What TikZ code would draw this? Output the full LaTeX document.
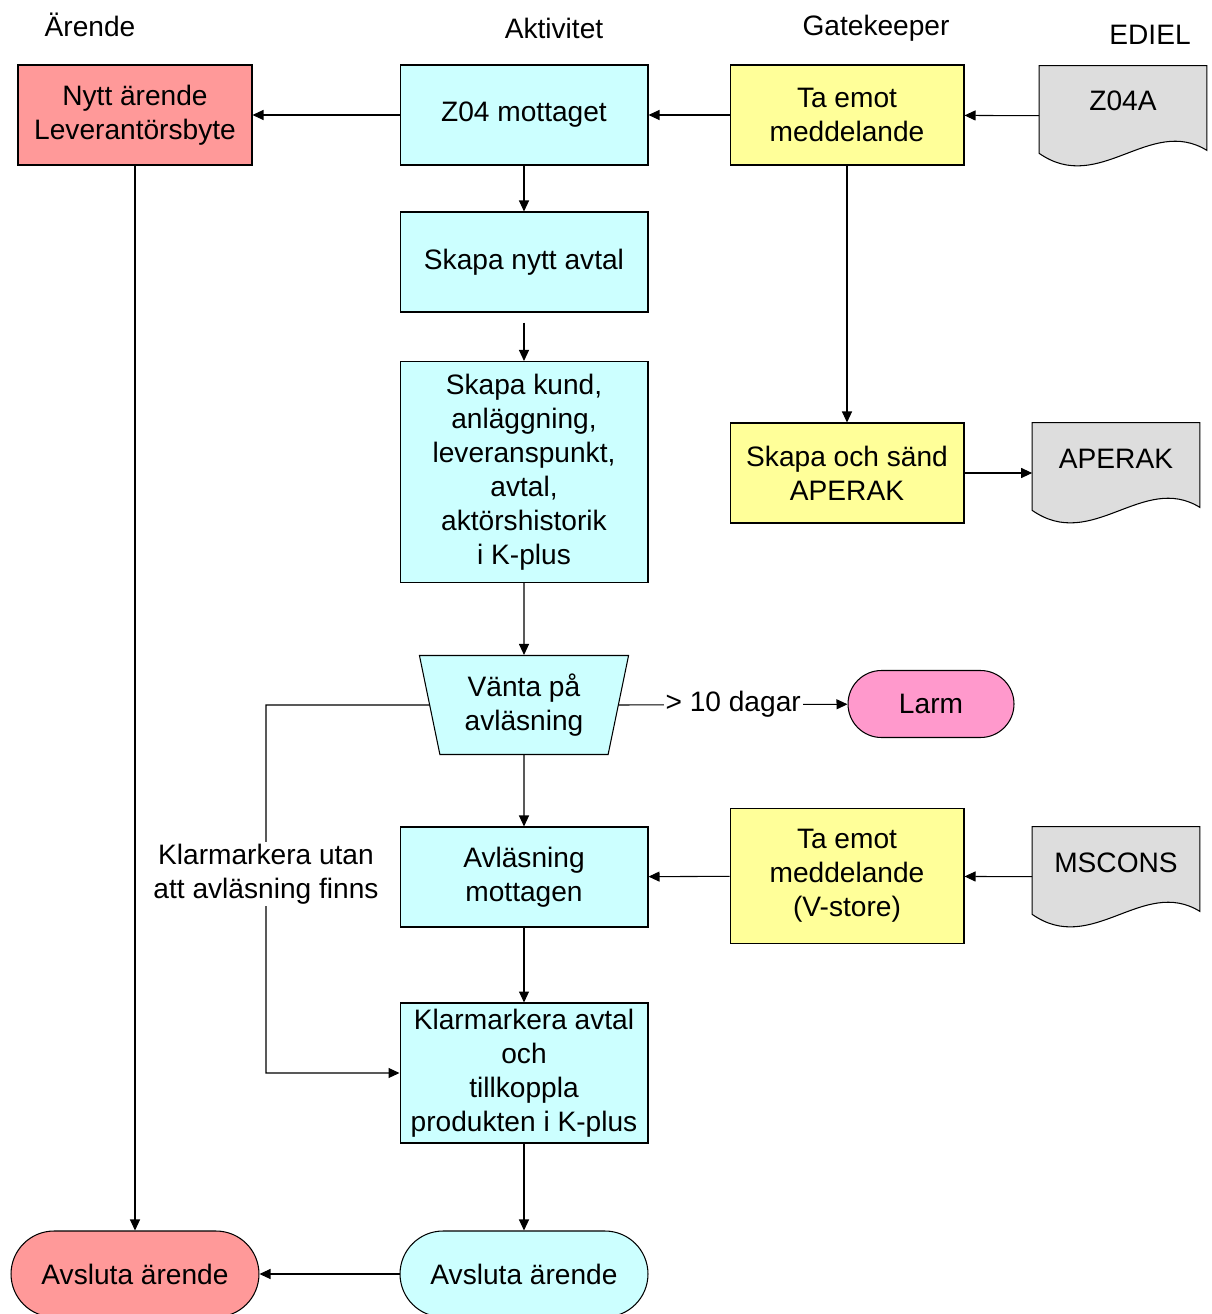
\documentclass[tikz,border=0pt]{standalone}
\usepackage{fontspec}
\setmainfont{Liberation Sans}
\usepackage{tikz}
\usetikzlibrary{arrows.meta,shapes.geometric,backgrounds}

\definecolor{arendered}{HTML}{FF9999}
\definecolor{aktcyan}{HTML}{CCFFFF}
\definecolor{gateyellow}{HTML}{FFFF99}
\definecolor{edielgray}{HTML}{DDDDDD}
\definecolor{larmpink}{HTML}{FF99CC}

% wavy document outline behind a doc node
\newcommand{\docwave}[1]{%
  \begin{pgfonlayer}{background}
  \filldraw[fill=edielgray, line width=0.6pt] (#1.north west) -- (#1.north east)
    -- ([yshift=0.32cm]#1.south east)
    .. controls ([xshift=-1.14cm,yshift=1.02cm]#1.south east)
    and ([xshift=1.2cm,yshift=-0.58cm]#1.south west) ..
    ([yshift=0.26cm]#1.south west) -- cycle;
  \end{pgfonlayer}}

\begin{document}
\begin{tikzpicture}[
    x=0.02cm, y=-0.02cm,
    font=\fontsize{16}{19.4}\selectfont,
    box/.style={draw, line width=0.6pt, minimum width=4.96cm,
        minimum height=2cm, align=center, inner sep=2pt},
    doc/.style={minimum width=3.34cm, minimum height=2cm,
        text height=0.4cm, text depth=0.6cm, inner sep=0pt},
    term/.style={draw, line width=0.6pt, align=center},
    arr/.style={-{Triangle[length=0.22cm,width=0.2cm]}, line width=0.6pt},
    lbl/.style={fill=white, inner sep=1pt, align=center},
]
\useasboundingbox (0,0) rectangle (1211,1314);

% column headings
\node (hArende) at (90,25) {Ärende};
\node (hAkt) at (554,28) {Aktivitet};
\node (hGate) at (876,28) {Gatekeeper};
\node (hEdiel) at (1150,35) {EDIEL};

% Ärende
\node[box, fill=arendered, minimum width=4.68cm] (nytt) at (135,115) {Nytt ärende\\Leverantörsbyte};
\node[term, fill=arendered, minimum width=4.96cm, minimum height=1.72cm,
    rounded corners=0.86cm] (avslR) at (135,1274) {Avsluta ärende};

% Aktivitet
\node[box, fill=aktcyan] (z04mot) at (524,115) {Z04 mottaget};
\node[box, fill=aktcyan] (nyttavtal) at (524,262) {Skapa nytt avtal};
\node[box, fill=aktcyan, minimum height=4.42cm] (skapakund) at (524,472)
    {Skapa kund,\\anläggning,\\leveranspunkt,\\avtal,\\aktörshistorik\\i K-plus};
\node[trapezium, draw, line width=0.6pt, fill=aktcyan, shape border rotate=180,
    trapezium left angle=77, trapezium right angle=77, trapezium stretches=true,
    minimum height=1.98cm, minimum width=4.22cm, align=center,
    inner sep=0pt] (vanta) at (524,705) {Vänta på\\avläsning};
\node[box, fill=aktcyan] (avlmot) at (524,877) {Avläsning\\mottagen};
\node[box, fill=aktcyan, minimum height=2.8cm] (klar) at (524,1073)
    {Klarmarkera avtal\\och\\tillkoppla\\produkten i K-plus};
\node[term, fill=aktcyan, minimum width=4.96cm, minimum height=1.72cm,
    rounded corners=0.86cm] (avslC) at (524,1274) {Avsluta ärende};
\coordinate (bend) at (266,705);

% Gatekeeper
\node[box, fill=gateyellow, minimum width=4.68cm] (taemot) at (847,115) {Ta emot\\meddelande};
\node[box, fill=gateyellow, minimum width=4.68cm] (aperakbox) at (847,473) {Skapa och sänd\\APERAK};
\node[box, fill=gateyellow, minimum width=4.68cm, minimum height=2.7cm] (vstore) at (847,876)
    {Ta emot\\meddelande\\(V-store)};
\node[term, fill=larmpink, minimum width=3.32cm, minimum height=1.34cm,
    rounded corners=0.67cm] (larm) at (931,704) {Larm};

% EDIEL
\node[doc] (z04a) at (1123,116) {Z04A};
\node[doc] (aperak) at (1116,473) {APERAK};
\node[doc] (mscons) at (1116,877) {MSCONS};
\docwave{z04a}
\docwave{aperak}
\docwave{mscons}

% flow
\draw[arr] (z04a) -- (taemot);
\draw[arr] (taemot) -- (z04mot);
\draw[arr] (z04mot) -- (nytt);
\draw[arr] (z04mot) -- (nyttavtal);
\draw[arr, shorten <=0.2cm] (nyttavtal) -- (skapakund);
\draw[arr] (skapakund) -- (vanta);
\draw[arr] (taemot) -- (aperakbox);
\draw[arr] (aperakbox) -- (aperak);
\draw[arr] (vanta.east) -- node[lbl] {> 10 dagar} (larm);
\draw[arr] (vanta.west) -- (bend) |- node[lbl, pos=0.23] {Klarmarkera utan\\att avläsning finns} (klar.west);
\draw[arr] (vanta) -- (avlmot);
\draw[arr] (mscons) -- (vstore);
\draw[arr] (vstore) -- (avlmot);
\draw[arr] (avlmot) -- (klar);
\draw[arr] (klar) -- (avslC);
\draw[arr] (avslC) -- (avslR);
\draw[arr] (nytt) -- (avslR);
\end{tikzpicture}
\end{document}
